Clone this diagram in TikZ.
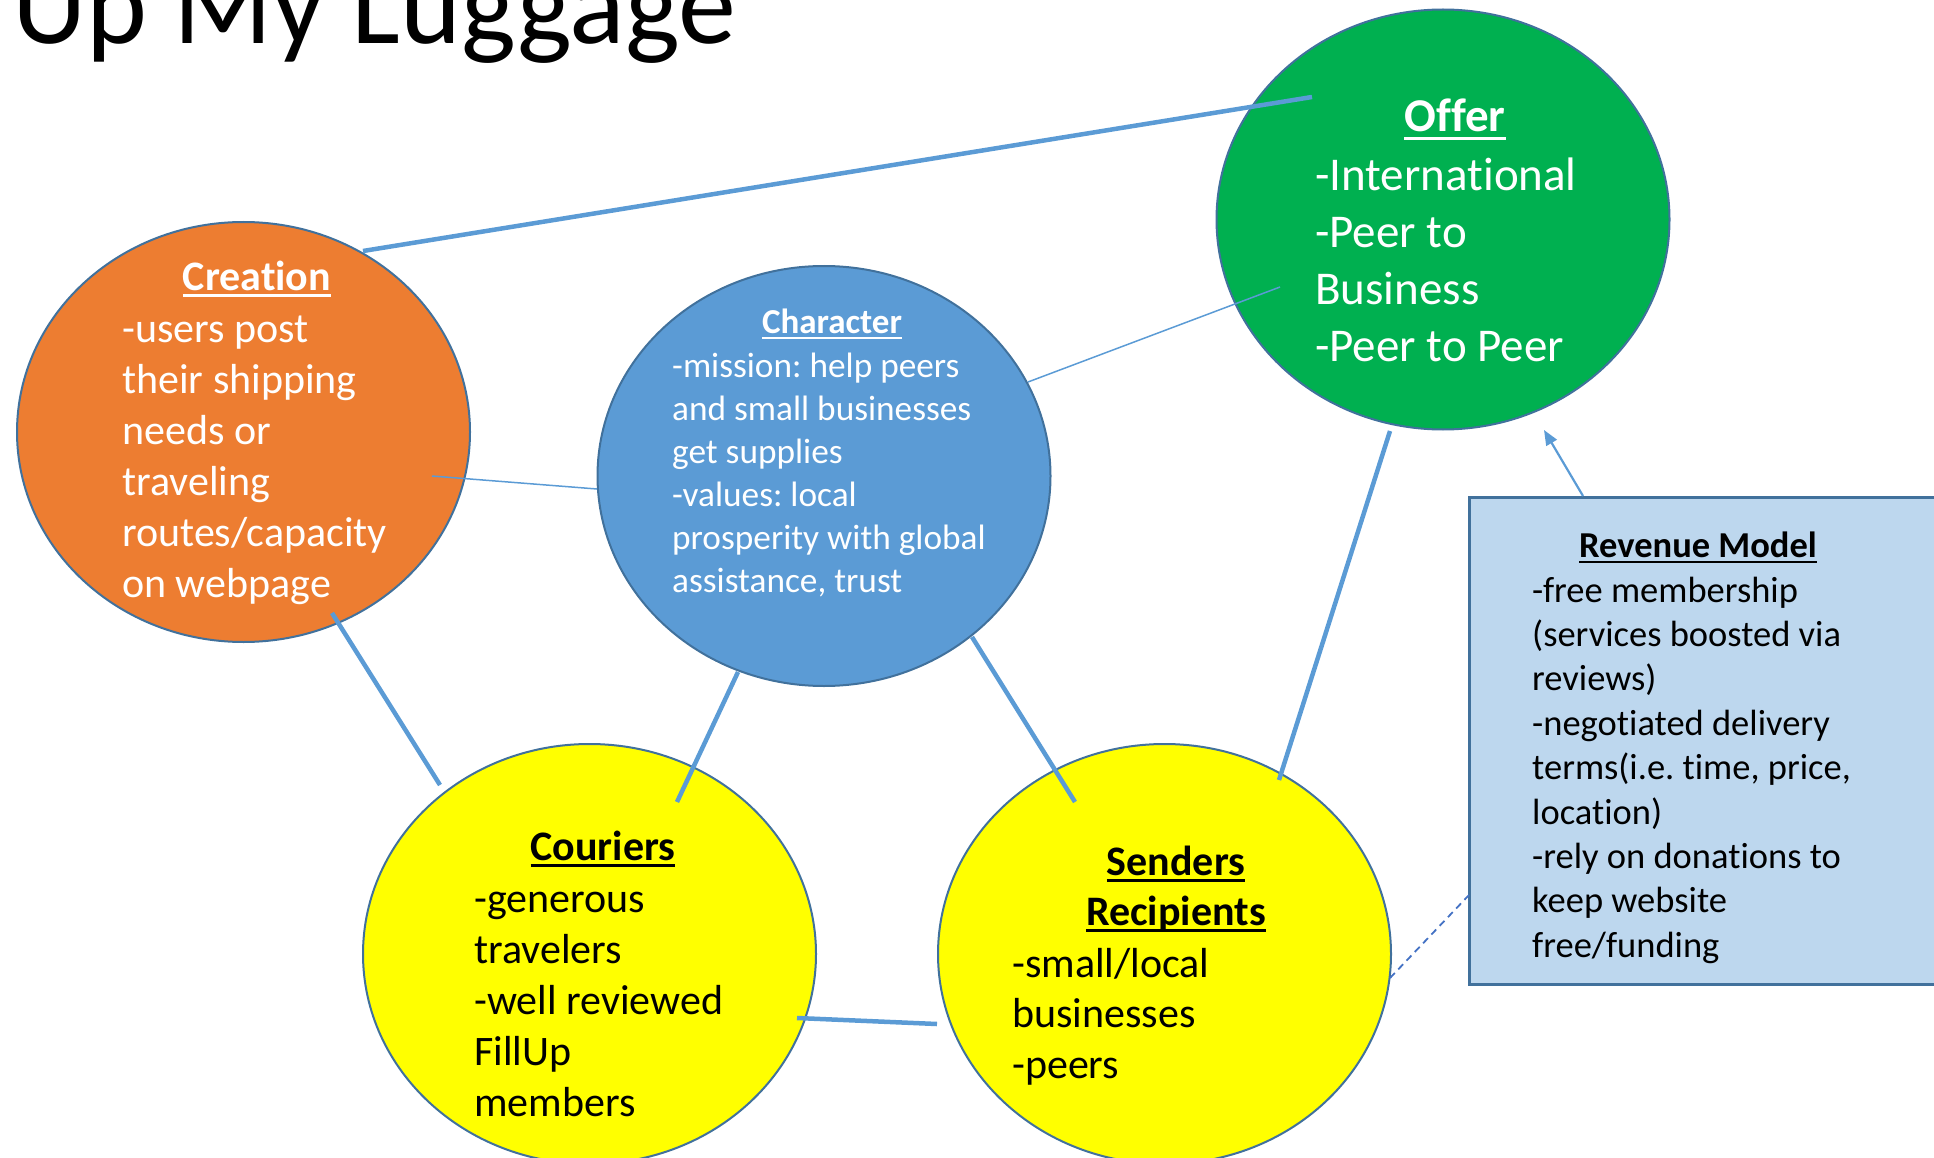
\documentclass[tikz,border=0pt]{standalone}
\usepackage{fontspec}
\setmainfont{Carlito}[Ligatures=NoCommon]
\usetikzlibrary{shapes.geometric,arrows.meta}
\definecolor{cOrange}{HTML}{ED7D31}
\definecolor{cBlue}{HTML}{5B9BD5}
\definecolor{cGreen}{HTML}{00B050}
\definecolor{cYellow}{HTML}{FFFF00}
\definecolor{cLight}{HTML}{BDD7EE}
\definecolor{cEdge}{HTML}{41719C}
\definecolor{cLine}{HTML}{5B9BD5}
\definecolor{cDash}{HTML}{4472C4}
\newcommand\myul[1]{\leavevmode\setbox0=\hbox{#1}\rlap{\rule[-0.17em]{\wd0}{0.07em}}\box0}
\newcommand\tln[1]{\hbox{#1}}
\newcommand\blk[2]{\vtop{\baselineskip=#1\lineskiplimit=-1000pt\lineskip=0pt\relax #2}}
\frenchspacing
\tikzset{
  bubble/.style={ellipse, draw=cEdge, line width=2pt, minimum width=453pt, minimum height=420pt, inner sep=0pt},
  txt/.style={inner sep=0pt, anchor=base west},
  ttl/.style={inner sep=0pt, anchor=base},
  link/.style={draw=cLine, line width=4.5pt},
  thinlink/.style={draw=cLine, line width=1.5pt},
}
\begin{document}
\begin{tikzpicture}[x=1pt,y=-1pt]
\useasboundingbox (0,0) rectangle (1934,1158);
% title (cut off at top, as in the reference)
\node[anchor=base west, inner sep=0pt, font=\fontsize{116}{130}\selectfont] (title) at (12,44) {Up My Luggage};
% shapes
\node[bubble, fill=cOrange] (cre) at (243.5,432) {};
\node[bubble, fill=cBlue] (chr) at (824,476) {};
\node[bubble, fill=cGreen] (off) at (1443,219.5) {};
\node[bubble, fill=cYellow] (cou) at (589.5,954) {};
\node[bubble, fill=cYellow] (snd) at (1164.5,954) {};
\node[rectangle, draw=cEdge, line width=3pt, fill=cLight, minimum width=541pt, minimum height=487pt, inner sep=0pt] (rev) at (1739.5,740.5) {};
% Creation text
\node[ttl, text=white, font=\fontsize{42}{51}\selectfont\bfseries] (creH) at (257,290) {\myul{Creation}};
\node[txt, text=white, font=\fontsize{42}{51}\selectfont] (creB) at (122,342) {\blk{51pt}{\tln{-users post}\tln{their shipping}\tln{needs or}\tln{traveling}\tln{routes/capacity}\tln{on webpage}}};
% Character text
\node[ttl, text=white, font=\fontsize{35}{43}\selectfont\bfseries] (chrH) at (832,333) {\myul{Character}};
\node[txt, text=white, font=\fontsize{35.3}{43}\selectfont] (chrB) at (672,377) {\blk{43pt}{\tln{-mission: help peers}\tln{and small businesses}\tln{get supplies}\tln{-values: local}\tln{prosperity with global}\tln{assistance, trust}}};
% Offer text
\node[ttl, text=white, font=\fontsize{47}{57}\selectfont\bfseries] (offH) at (1455,132) {\myul{Offer}};
\node[txt, text=white, font=\fontsize{47}{57}\selectfont] (offB) at (1315,191) {\blk{57pt}{\tln{-International}\tln{-Peer to}\tln{Business}\tln{-Peer to Peer}}};
% Couriers text
\node[ttl, text=black, font=\fontsize{42}{51}\selectfont\bfseries] (couH) at (603,860) {\myul{Couriers}};
\node[txt, text=black, font=\fontsize{42}{51}\selectfont] (couB) at (474,912) {\blk{51pt}{\tln{-generous}\tln{travelers}\tln{-well reviewed}\tln{FillUp}\tln{members}}};
% Senders text
\node[ttl, text=black, font=\fontsize{42}{51}\selectfont\bfseries] (sndH1) at (1176,875) {\myul{Senders}};
\node[ttl, text=black, font=\fontsize{42}{51}\selectfont\bfseries] (sndH2) at (1176,925) {\myul{Recipients}};
\node[txt, text=black, font=\fontsize{42}{51}\selectfont] (sndB) at (1012,977) {\blk{50.5pt}{\tln{-small/local}\tln{businesses}\tln{-peers}}};
% Revenue text
\node[ttl, text=black, font=\fontsize{36.5}{44}\selectfont\bfseries] (revH) at (1698,557) {\myul{Revenue Model}};
\node[txt, text=black, font=\fontsize{36.5}{44}\selectfont] (revB) at (1532,602) {\blk{44.4pt}{\tln{-free membership}\tln{(services boosted via}\tln{reviews)}\tln{-negotiated delivery}\tln{terms(i.e. time, price,}\tln{location)}\tln{-rely on donations to}\tln{keep website}\tln{free/funding}}};
% connector end points
\coordinate (creA) at (363,251);
\coordinate (offA) at (1312,97);
\coordinate (creB2) at (432,476);
\coordinate (chrA) at (597,489);
\coordinate (chrB2) at (1028,382);
\coordinate (offB2) at (1280,287);
\coordinate (creC) at (332,613);
\coordinate (couA) at (440,785);
\coordinate (chrC) at (738,672);
\coordinate (couB2) at (677,802);
\coordinate (chrD) at (972,637);
\coordinate (sndA) at (1075,802);
\coordinate (offC) at (1390,431);
\coordinate (sndB2) at (1279,780);
\coordinate (couC) at (797,1018);
\coordinate (sndC) at (937,1024);
\coordinate (sndD) at (1390,978);
\coordinate (revA) at (1469,895);
\coordinate (revT) at (1583,496);
\coordinate (offD) at (1544,430);
% connectors
\draw[link] (creA) -- (offA);
\draw[thinlink] (creB2) -- (chrA);
\draw[thinlink] (chrB2) -- (offB2);
\draw[link] (creC) -- (couA);
\draw[link] (chrC) -- (couB2);
\draw[link] (chrD) -- (sndA);
\draw[link] (offC) -- (sndB2);
\draw[link] (couC) -- (sndC);
\draw[draw=cDash, line width=1.8pt, dash pattern=on 7pt off 5pt] (sndD) -- (revA);
\draw[draw=cLine, line width=2.2pt, -{Triangle[length=15pt,width=12pt]}] (revT) -- (offD);
\end{tikzpicture}
\end{document}
